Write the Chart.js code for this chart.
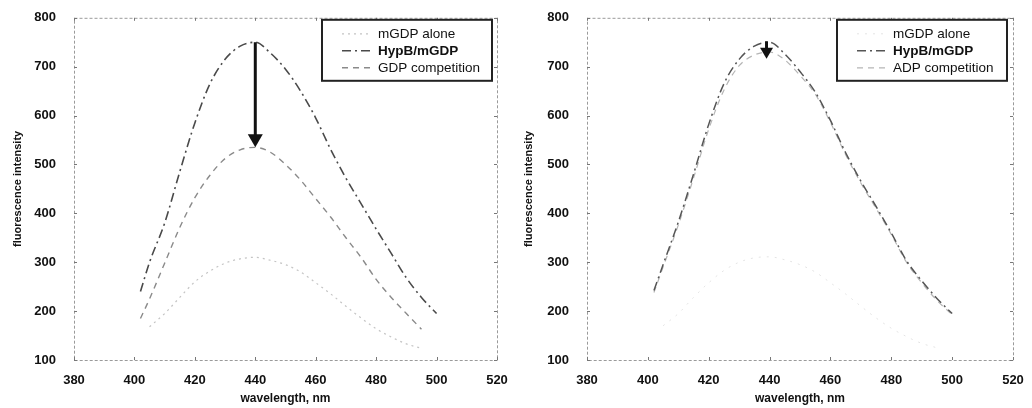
<!DOCTYPE html>
<html>
<head>
<meta charset="utf-8">
<script src="https://cdn.jsdelivr.net/npm/chart.js@4.4.1/dist/chart.umd.min.js"></script>
<style>
    html, body { margin: 0; padding: 0; background: #fff; }
    #wrap { position: relative; width: 1032px; height: 408px; }
    #left { position: absolute; left: 0; top: 0; }
    #right { position: absolute; left: 520px; top: 0; }
</style>
</head>
<body>
<div id="wrap">
    <canvas id="left" width="520" height="408"></canvas>
    <canvas id="right" width="512" height="408"></canvas>
</div>
<script>
// data
const wavelengths = [402, 405, 410, 415, 420, 425, 430, 435, 440, 445, 450, 455, 460, 465, 470, 475, 480, 485, 490, 495, 500];

const leftMgdpAlone = [null, 168, 195, 228, 260, 282, 298, 307, 310, 304, 295, 280, 258, 235, 210, 186, 164, 147, 133, 124, null];
const leftHypB = [240, 300, 380, 485, 585, 665, 715, 742, 750, 728, 695, 650, 595, 530, 472, 420, 368, 318, 268, 228, 195];
const leftGdpComp = [185, 225, 298, 371, 432, 478, 512, 530, 535, 525, 500, 468, 430, 392, 350, 310, 265, 228, 195, 163, null];

const rightMgdpAlone = [null, 170, 195, 228, 258, 283, 300, 309, 311, 305, 295, 280, 258, 235, 210, 186, 165, 148, 134, 125, null];
const rightHypB = [242, 295, 382, 480, 582, 665, 715, 742, 750, 726, 690, 648, 590, 524, 466, 414, 360, 303, 262, 226, 195];
const rightAdpComp = [238, 290, 376, 472, 572, 652, 702, 724, 730, 714, 682, 644, 586, 520, 462, 410, 357, 300, 258, 222, 193];

const xTicks = [380, 400, 420, 440, 460, 480, 500, 520];
const yTicks = [100, 200, 300, 400, 500, 600, 700, 800];

// arrow: [wavelength, from, to]
const leftArrow = [440, 750, 535];
const rightArrow = [439, 752, 716];

const FONT = '"Liberation Sans", Arial, sans-serif';

const toPoints = (ys) => wavelengths.map((x, i) => ({ x: x, y: ys[i] }));

const figurePlugin = {
    id: 'figure',
    afterDatasetsDraw(chart, args, opts) {
        const ctx = chart.ctx;
        const area = chart.chartArea;
        const xs = chart.scales.x, ys = chart.scales.y;

        // frame
        ctx.save();
        ctx.strokeStyle = '#9a9a9a';
        ctx.lineWidth = 1;
        ctx.setLineDash([3, 2]);
        ctx.strokeRect(area.left + 0.5, area.top + 0.5, area.right - area.left, area.bottom - area.top);
        ctx.setLineDash([]);
        // small inward ticks
        ctx.strokeStyle = '#777';
        xTicks.forEach(v => {
            const px = Math.round(xs.getPixelForValue(v)) + 0.5;
            ctx.beginPath();
            ctx.moveTo(px, area.bottom); ctx.lineTo(px, area.bottom - 3);
            ctx.moveTo(px, area.top); ctx.lineTo(px, area.top + 3);
            ctx.stroke();
        });
        yTicks.forEach(v => {
            const py = Math.round(ys.getPixelForValue(v)) + 0.5;
            ctx.beginPath();
            ctx.moveTo(area.left, py); ctx.lineTo(area.left + 3, py);
            ctx.moveTo(area.right, py); ctx.lineTo(area.right - 3, py);
            ctx.stroke();
        });
        ctx.restore();

        // arrow
        const a = opts.arrow;
        const ax = xs.getPixelForValue(a[0]);
        const ay1 = ys.getPixelForValue(a[1]);
        const ay2 = ys.getPixelForValue(a[2]);
        const head = opts.headSize;
        ctx.save();
        ctx.strokeStyle = '#111';
        ctx.fillStyle = '#111';
        ctx.lineWidth = 3;
        if (ay2 - head > ay1) {
            ctx.beginPath();
            ctx.moveTo(ax, ay1);
            ctx.lineTo(ax, ay2 - head + 1);
            ctx.stroke();
        }
        ctx.beginPath();
        ctx.moveTo(ax - head / 2 - 1, ay2 - head);
        ctx.lineTo(ax + head / 2 + 1, ay2 - head);
        ctx.lineTo(ax, ay2);
        ctx.closePath();
        ctx.fill();
        ctx.restore();

        // legend box
        const bw = opts.boxWidth, bh = 61;
        const bx = area.right - opts.boxRight - bw;
        const by = area.top + 2;
        ctx.save();
        ctx.fillStyle = '#fff';
        ctx.fillRect(bx, by, bw, bh);
        ctx.strokeStyle = '#222';
        ctx.lineWidth = 2;
        ctx.strokeRect(bx, by, bw, bh);
        ctx.textBaseline = 'middle';
        chart.data.datasets.forEach((ds, i) => {
            const ly = by + 14 + i * 17;
            ctx.strokeStyle = ds.borderColor;
            ctx.lineWidth = ds.borderWidth;
            ctx.setLineDash(ds.borderDash || []);
            ctx.beginPath();
            ctx.moveTo(bx + 20, ly);
            ctx.lineTo(bx + 50, ly);
            ctx.stroke();
            ctx.setLineDash([]);
            ctx.fillStyle = '#111';
            ctx.font = (i === 1 ? 'bold ' : '') + '13.5px ' + FONT;
            ctx.fillText(ds.label, bx + 56, ly);
        });
        ctx.restore();
    }
};

function makeChart(id, series, labels, colors, dashes, widths, arrow, leftW, rightPad, boxRight, titlePad) {
    const datasets = series.map((s, i) => ({
        label: labels[i],
        data: toPoints(s),
        borderColor: colors[i],
        borderDash: dashes[i],
        borderWidth: widths[i],
        pointRadius: 0,
        fill: false,
        tension: 0.4,
        cubicInterpolationMode: 'monotone'
    }));

    return new Chart(document.getElementById(id), {
        type: 'line',
        data: { datasets: datasets },
        plugins: [figurePlugin],
        options: {
            responsive: false,
            animation: false,
            layout: { padding: { top: 17, right: rightPad, bottom: 0, left: 0 } },
            plugins: {
                legend: { display: false },
                tooltip: { enabled: false },
                figure: { arrow: arrow, headSize: arrow[2] - arrow[1] > -60 ? 11 : 13, boxWidth: 170, boxRight: boxRight }
            },
            scales: {
                x: {
                    type: 'linear',
                    min: 380,
                    max: 520,
                    afterBuildTicks: (scale) => { scale.ticks = xTicks.map(v => ({ value: v })); },
                    afterFit: (scale) => { scale.height = 48; },
                    grid: { display: false },
                    border: { display: false },
                    ticks: { color: '#111', font: { family: FONT, size: 13, weight: 'bold' }, padding: 5, maxRotation: 0 },
                    title: { display: true, text: 'wavelength, nm', color: '#111', font: { family: FONT, size: 12, weight: 'bold' }, padding: { top: 0, bottom: 2 } }
                },
                y: {
                    min: 100,
                    max: 800,
                    afterBuildTicks: (scale) => { scale.ticks = yTicks.map(v => ({ value: v })); },
                    afterFit: (scale) => { scale.width = leftW; },
                    grid: { display: false },
                    border: { display: false },
                    ticks: { color: '#111', font: { family: FONT, size: 13, weight: 'bold' }, padding: 10 },
                    title: { display: true, text: 'fluorescence intensity', color: '#111', font: { family: FONT, size: 11, weight: 'bold' }, padding: { top: titlePad, bottom: 4 } }
                }
            }
        }
    });
}

makeChart('left',
    [leftMgdpAlone, leftHypB, leftGdpComp],
    ['mGDP alone', 'HypB/mGDP', 'GDP competition'],
    ['#c4c4c4', '#4a4a4a', '#8a8a8a'],
    [[2, 4], [9, 4, 2, 4], [6, 5]],
    [1.2, 1.6, 1.4],
    leftArrow, 74, 23, 5, 11);

makeChart('right',
    [rightMgdpAlone, rightHypB, rightAdpComp],
    ['mGDP alone', 'HypB/mGDP', 'ADP competition'],
    ['#e4e4e4', '#555555', '#b5b5b5'],
    [[2, 6], [9, 4, 2, 4], [6, 5]],
    [1.0, 1.5, 1.2],
    rightArrow, 67, 19, 6, 2);
</script>
</body>
</html>
